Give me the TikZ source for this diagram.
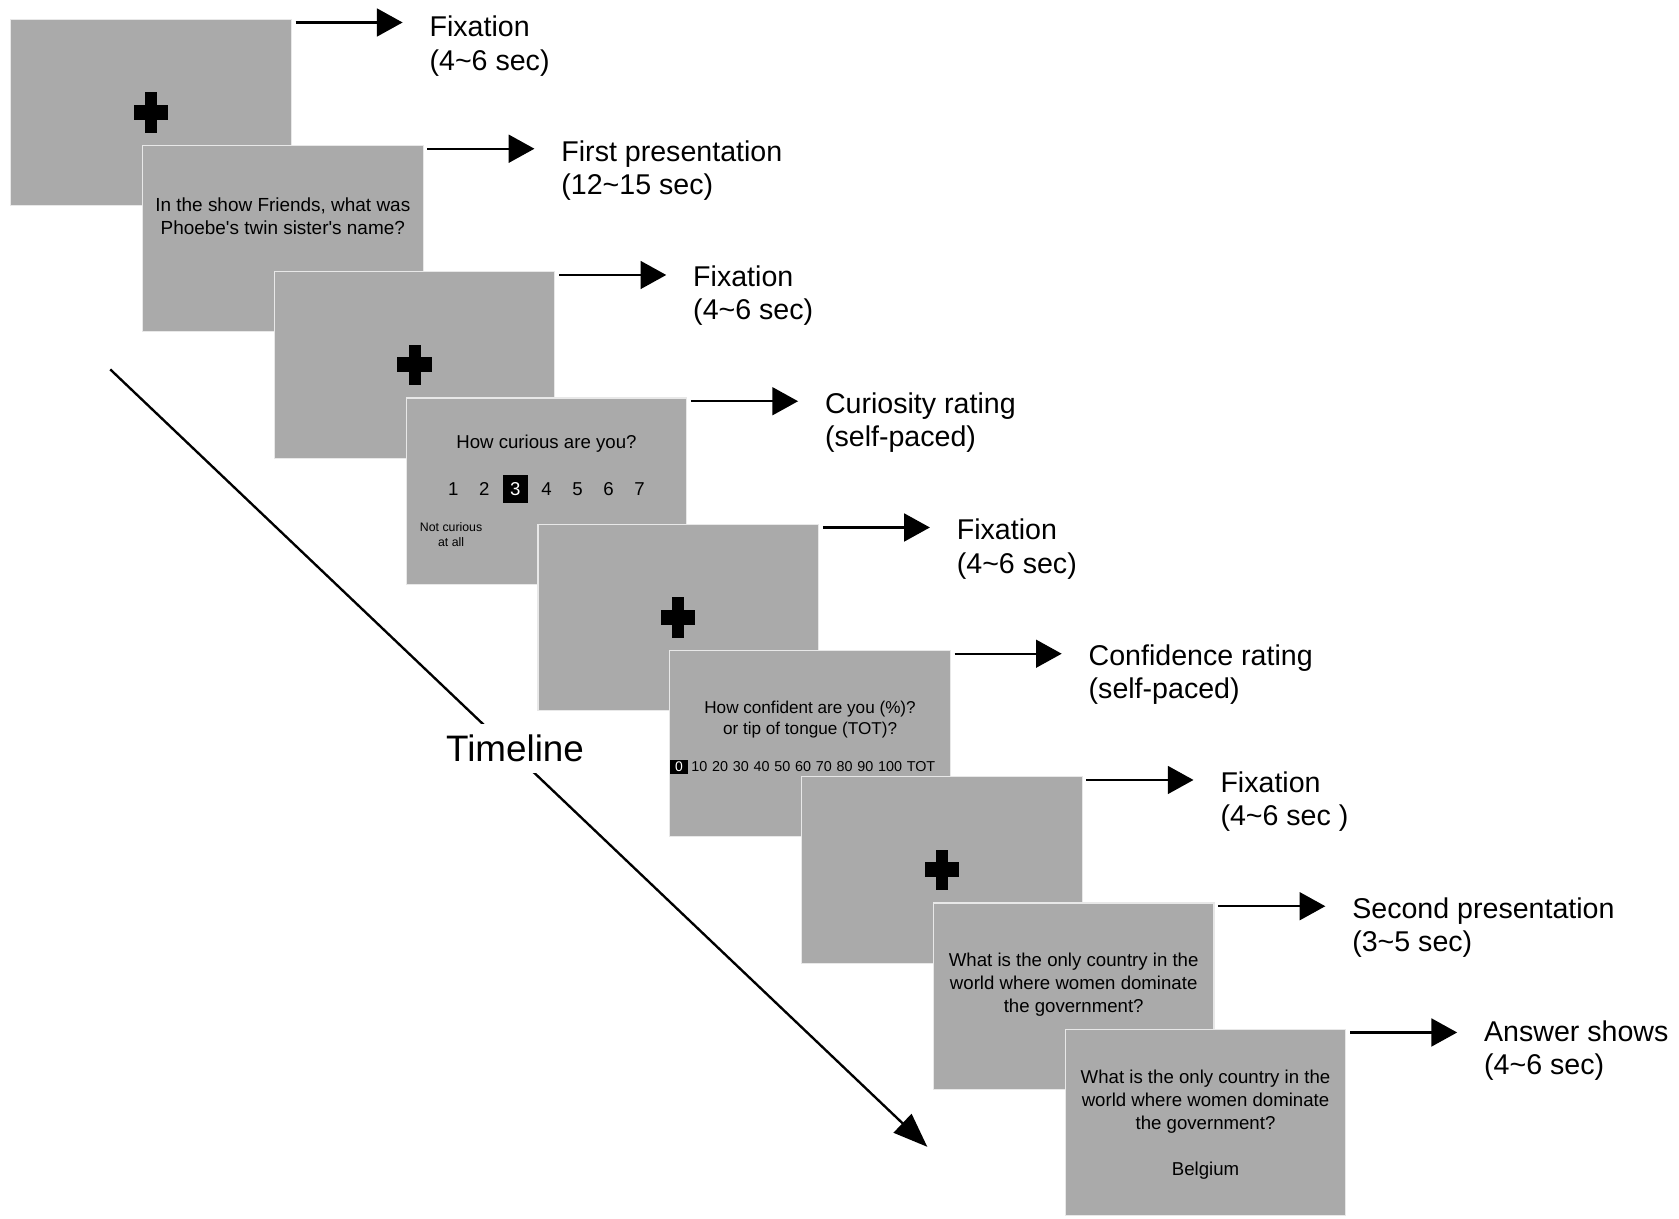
\documentclass[tikz,border=0pt]{standalone}
\usepackage{fontspec}
\setmainfont{Liberation Sans}
\usetikzlibrary{arrows.meta,calc}
\definecolor{scr}{RGB}{170,170,170}
\definecolor{scredge}{RGB}{232,232,232}
\newcommand{\fsz}[2]{\fontsize{#1}{#2}\selectfont}
\begin{document}
\begin{tikzpicture}[x=1pt,y=-1pt,
  screen/.style={fill=scr,draw=scredge,line width=1pt,minimum width=262pt,minimum height=174pt,anchor=north west,inner sep=0pt,outer sep=0pt},
  lab/.style={anchor=north west,align=left,inner sep=0pt,font=\fsz{26.7}{31}},
  arr/.style={line width=2pt,-{Triangle[length=24pt,width=26pt]}},
  qtext/.style={align=center,inner sep=0pt,font=\fsz{17.7}{22}},
  qtextb/.style={align=center,inner sep=0pt,font=\fsz{17.4}{21.5}},
  num/.style={inner sep=0pt,font=\fsz{17.4}{20}},
  numsel/.style={num,fill=black,text=white,minimum width=24pt,minimum height=26pt},
  small/.style={align=center,inner sep=0pt,font=\fsz{11.5}{14}},
  tlarr/.style={line width=2.2pt,-{Triangle[length=32pt,width=24pt]}},
  fixcross/.pic={\fill[black] (-5.5,-19) rectangle (5.5,19); \fill[black] (-16,-7) rectangle (16,7);}
]
\useasboundingbox (0,0) rectangle (1568,1138);

% screens
\node[screen] (b1) at (10,18) {};
\pic at (b1.center) {fixcross};
\node[screen] (b2) at (133.1,135.9) {};
\node[qtext] (t2) at ($(b2.center)+(0,-21)$) {In the show Friends, what was\\Phoebe\textquotesingle s twin sister\textquotesingle s name?};
\node[screen] (b3) at (256.2,253.8) {};
\pic at (b3.center) {fixcross};
\node[screen] (b4) at (379.3,371.7) {};
\node[num] (t4) at ($(b4.center)+(0,-44)$) {How curious are you?};
\node[num] (n1) at ($(b4.center)+(-87,-2)$) {1};
\node[num] (n2) at ($(b4.center)+(-58,-2)$) {2};
\node[numsel] (n3) at ($(b4.center)+(-29,-2)$) {3};
\node[num] (n4) at ($(b4.center)+(0,-2)$) {4};
\node[num] (n5) at ($(b4.center)+(29,-2)$) {5};
\node[num] (n6) at ($(b4.center)+(58,-2)$) {6};
\node[num] (n7) at ($(b4.center)+(87,-2)$) {7};
\node[small] (nc) at ($(b4.center)+(-89,41)$) {Not curious\\at all};
\node[screen] (b5) at (502.4,489.6) {};
\pic at (b5.center) {fixcross};
\node[screen] (b6) at (625.5,607.5) {};
\node[align=center,inner sep=0pt,font=\fsz{16}{20}] (t6) at ($(b6.center)+(0,-22.5)$) {How confident are you (\%)?\\or tip of tongue (TOT)?};
\node[anchor=west,inner sep=0pt,fill=black,text=white,minimum width=17pt,minimum height=13pt,font=\fsz{13}{14}] (z0) at ($(b6.north west)+(0,108.5)$) {0};
\node[anchor=west,inner sep=0pt,font=\fsz{13.4}{14}] (sc) at ($(b6.north west)+(20,108.5)$) {10\,\,20\,\,30\,\,40\,\,50\,\,60\,\,70\,\,80\,\,90\,\,100\,\,TOT};
\node[screen] (b7) at (748.6,725.4) {};
\pic at (b7.center) {fixcross};
\node[screen] (b8) at (871.7,843.3) {};
\node[qtextb] (t8) at ($(b8.center)+(0,-11)$) {What is the only country in the\\world where women dominate\\the government?};
\node[screen] (b9) at (994.8,961.2) {};
\node[qtextb] (t9) at ($(b9.center)+(0,2)$) {What is the only country in the\\world where women dominate\\the government?\\[21.5pt]Belgium};

% labels and arrows
\foreach \i/\dy/\txt in {1/-3/{Fixation\\(4\textasciitilde6 sec)},
                     2/-5/{First presentation\\(12\textasciitilde15 sec)},
                     3/-6/{Fixation\\(4\textasciitilde6 sec)},
                     4/-5/{Curiosity rating\\(self-paced)},
                     5/-5/{Fixation\\(4\textasciitilde6 sec)},
                     6/-6/{Confidence rating\\(self-paced)},
                     7/-5/{Fixation\\(4\textasciitilde6 sec )},
                     8/-5/{Second presentation\\(3\textasciitilde5 sec)},
                     9/-8/{Answer shows\\(4\textasciitilde6 sec)}}{
  \node[lab] (l\i) at ($(b\i.north east)+(129,\dy)$) {\txt};
  \coordinate (a\i) at ($(b\i.north east)+(104,3)$);
  \draw[arr] ($(b\i.north east)+(4,3)$) -- (a\i);
}

% timeline
\coordinate (ts) at (103,345);
\coordinate (te) at (866,1071);
\draw[tlarr] (ts) -- node[pos=0.4954,yshift=5.7pt,fill=white,inner sep=10pt,font=\fsz{34.4}{40}] (tl) {Timeline} (te);
\end{tikzpicture}
\end{document}
